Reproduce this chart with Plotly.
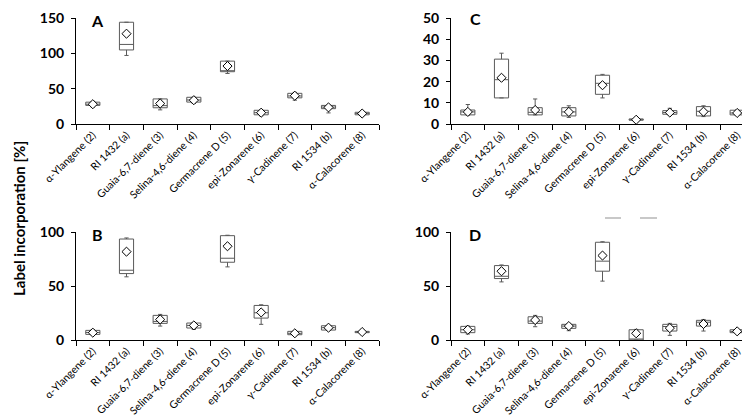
import plotly.graph_objects as go

categories = ["α-Ylangene (2)", "RI 1432 (a)", "Guaia-6,7-diene (3)", "Selina-4,6-diene (4)",
              "Germacrene D (5)", "epi-Zonarene (6)", "γ-Cadinene (7)", "RI 1534 (b)", "α-Calacorene (8)"]

# Panel A
a_q1 = [26.3, 104.8, 23.0, 31.0, 74.0, 13.0, 37.0, 21.7, 13.0]
a_med = [28.0, 112.6, 26.0, 34.0, 74.5, 16.0, 39.7, 24.0, 15.0]
a_q3 = [30.9, 144.0, 35.5, 37.8, 89.0, 19.4, 43.4, 26.3, 16.6]
a_lo = [24.0, 97.0, 20.0, 29.0, 71.5, 11.5, 33.7, 15.7, 11.5]
a_hi = [32.0, 144.0, 35.5, 37.8, 89.0, 19.4, 44.8, 26.3, 17.5]
a_mean = [28.0, 127.8, 29.0, 33.7, 82.0, 16.0, 40.0, 23.5, 14.8]

# Panel C
c_q1 = [4.3, 12.3, 4.3, 3.8, 14.0, 1.8, 4.6, 3.8, 4.3]
c_med = [5.7, 20.9, 5.5, 5.7, 19.2, 2.0, 5.4, 6.0, 5.2]
c_q3 = [6.6, 30.6, 7.7, 7.7, 23.0, 2.4, 6.3, 8.2, 6.5]
c_lo = [4.2, 12.3, 4.3, 3.1, 12.3, 1.6, 4.3, 3.5, 4.3]
c_hi = [9.2, 33.4, 11.8, 8.6, 23.4, 2.5, 7.4, 8.6, 6.5]
c_mean = [5.7, 21.8, 6.6, 5.7, 18.3, 2.0, 5.4, 5.8, 5.2]

# Panel B
b_q1 = [5.2, 61.5, 15.4, 11.1, 72.0, 20.3, 4.9, 9.2, 6.8]
b_med = [7.0, 64.6, 17.2, 13.5, 75.7, 25.2, 6.2, 11.4, 7.4]
b_q3 = [8.9, 93.5, 22.8, 15.7, 96.6, 32.0, 8.0, 13.2, 8.0]
b_lo = [4.6, 58.5, 12.9, 9.8, 67.7, 14.5, 4.5, 8.8, 6.5]
b_hi = [9.5, 94.5, 23.7, 16.3, 97.0, 32.6, 8.3, 13.5, 8.3]
b_mean = [6.8, 81.8, 19.0, 13.5, 86.8, 25.5, 6.2, 11.4, 7.4]

# Panel D
d_q1 = [6.8, 56.9, 15.4, 10.8, 63.7, 0.0, 8.3, 12.9, 6.8]
d_med = [9.5, 59.0, 17.5, 12.9, 73.0, 0.0, 12.5, 16.5, 8.0]
d_q3 = [12.6, 68.9, 21.5, 14.5, 90.5, 9.5, 14.5, 18.2, 9.5]
d_lo = [5.5, 53.8, 12.3, 8.6, 54.5, 0.0, 4.3, 8.3, 6.5]
d_hi = [12.9, 69.5, 22.8, 14.8, 91.0, 9.8, 15.4, 19.0, 9.8]
d_mean = [9.5, 63.7, 18.5, 12.9, 78.2, 6.2, 11.0, 14.8, 8.0]

panels = [
    ("A", a_q1, a_med, a_q3, a_lo, a_hi, a_mean, [0, 150], 50, "x", "y"),
    ("C", c_q1, c_med, c_q3, c_lo, c_hi, c_mean, [0, 50], 10, "x2", "y2"),
    ("B", b_q1, b_med, b_q3, b_lo, b_hi, b_mean, [0, 100], 50, "x3", "y3"),
    ("D", d_q1, d_med, d_q3, d_lo, d_hi, d_mean, [0, 100], 50, "x4", "y4"),
]

W, H = 750, 418
# pixel boxes for plotting areas: (left, right, top, bottom)
px_boxes = [(68, 371, 10, 116), (443, 746, 10, 116), (68, 371, 224, 332), (443, 746, 224, 332)]

FONT = "Lato, 'Open Sans', sans-serif"
fig = go.Figure()
layout = dict(width=W, height=H, margin=dict(l=0, r=0, t=0, b=0, autoexpand=False),
              paper_bgcolor="white", plot_bgcolor="white", showlegend=False,
              font=dict(family=FONT, color="black"))

for i, (lab, q1, med, q3, lo, hi, mn, yr, dt, xa, ya) in enumerate(panels):
    fig.add_trace(go.Box(x=categories, q1=q1, median=med, q3=q3, lowerfence=lo, upperfence=hi,
                         xaxis=xa, yaxis=ya, width=0.42, whiskerwidth=0.3,
                         fillcolor="white", line=dict(color="#5a5a5a", width=1),
                         boxpoints=False, hoverinfo="skip"))
    fig.add_trace(go.Scatter(x=categories, y=mn, mode="markers", xaxis=xa, yaxis=ya,
                             marker=dict(symbol="diamond", size=7, color="white",
                                         line=dict(color="black", width=1)),
                             hoverinfo="skip"))
    l, r, t, b = px_boxes[i]
    sfx = "" if i == 0 else str(i + 1)
    layout["xaxis" + sfx] = dict(domain=[l / W, r / W], anchor=ya, type="category",
                                 categoryarray=categories, range=[-0.5, 8.5],
                                 tickson="boundaries", ticks="outside", ticklen=5,
                                 tickcolor="black", showline=True, linecolor="black",
                                 linewidth=1, showgrid=False, tickangle=-45, automargin=False,
                                 ticklabeloverflow="allow",
                                 tickfont=dict(size=10.5, family=FONT))
    layout["yaxis" + sfx] = dict(domain=[(H - b) / H, (H - t) / H], anchor=xa, range=yr,
                                 dtick=dt, ticks="outside", ticklen=4, tickcolor="black",
                                 showline=True, linecolor="black", linewidth=1,
                                 showgrid=False, zeroline=False, automargin=False,
                                 ticklabeloverflow="allow", ticklabelstandoff=4,
                                 tickfont=dict(size=14, family=FONT, weight="bold"))

fig.update_layout(**layout)

# panel letters
letter_pos = {"A": (89, 13), "C": (467, 10), "B": (89, 226), "D": (467, 226)}
for lab, (px, py) in letter_pos.items():
    fig.add_annotation(text="<b>" + lab + "</b>", x=px / W, y=1 - py / H, xref="paper", yref="paper",
                       showarrow=False, font=dict(size=16, family=FONT), xanchor="center", yanchor="middle")

fig.add_annotation(text="<b>Label incorporation [%]</b>", x=11 / W, y=1 - 211 / H, xref="paper", yref="paper",
                   showarrow=False, textangle=-90, font=dict(size=15, family=FONT),
                   xanchor="center", yanchor="middle")

# faint grey dashes above panel D (present in the original image)
for x0, x1 in [(597, 613), (632, 649)]:
    fig.add_shape(type="line", xref="paper", yref="paper", x0=x0 / W, x1=x1 / W,
                  y0=1 - 210 / H, y1=1 - 210 / H, line=dict(color="#c8c8c8", width=2))

fig.write_html("out.html")
